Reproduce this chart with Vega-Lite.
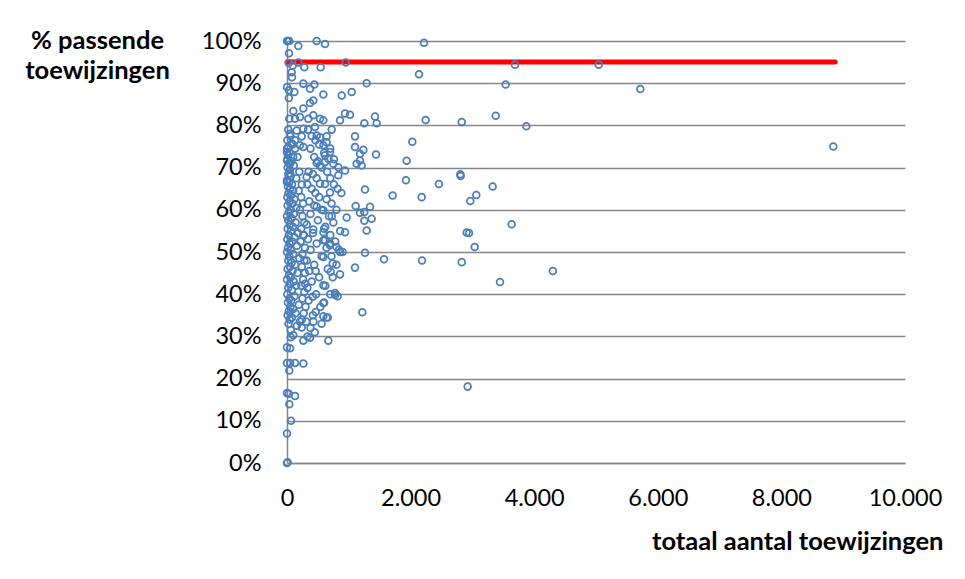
{
  "$schema": "https://vega.github.io/schema/vega-lite/v6.json",
  "width": 618,
  "height": 422,
  "autosize": "none",
  "padding": {"left": 287, "top": 41, "right": 60, "bottom": 116},
  "background": "white",
  "config": {
    "view": {"stroke": null},
    "locale": {
      "number": {"decimal": ",", "thousands": ".", "grouping": [3], "currency": ["€", ""]}
    },
    "axis": {
      "labelFont": "Lato",
      "labelFontSize": 23.5,
      "labelColor": "black",
      "labelFlush": false,
      "labelOverlap": false,
      "labelBound": false,
      "titleFont": "Lato",
      "titleFontSize": 25.5,
      "titleFontWeight": "bold",
      "titleColor": "black",
      "domainColor": "#868686",
      "domainWidth": 1.5,
      "ticks": false,
      "tickSize": 0
    }
  },
  "layer": [
    {
      "data": {"values": [{"start": 0, "end": 8870, "p": 0.95}]},
      "mark": {"type": "rule", "color": "#FF0000", "strokeWidth": 5, "strokeCap": "round"},
      "encoding": {
        "x": {"field": "start", "type": "quantitative"},
        "x2": {"field": "end"},
        "y": {"field": "p", "type": "quantitative"}
      }
    },
    {
      "data": {
        "values": [
          {"n": 3689, "p": 0.944}, {"n": 5044, "p": 0.944}, {"n": 3538, "p": 0.897}, {"n": 5717, "p": 0.886},
          {"n": 2827, "p": 0.808}, {"n": 3377, "p": 0.823}, {"n": 3873, "p": 0.798}, {"n": 8840, "p": 0.75},
          {"n": 2805, "p": 0.684}, {"n": 2810, "p": 0.68}, {"n": 3328, "p": 0.655}, {"n": 3063, "p": 0.635},
          {"n": 2966, "p": 0.621}, {"n": 3635, "p": 0.566}, {"n": 2945, "p": 0.545}, {"n": 3037, "p": 0.512},
          {"n": 2827, "p": 0.476}, {"n": 4302, "p": 0.455}, {"n": 3447, "p": 0.429}, {"n": 2923, "p": 0.181},
          {"n": 2244, "p": 0.813}, {"n": 2136, "p": 0.921}, {"n": 2217, "p": 0.996}, {"n": 2179, "p": 0.63},
          {"n": 2185, "p": 0.48}, {"n": 2028, "p": 0.761}, {"n": 1936, "p": 0.716}, {"n": 1925, "p": 0.67},
          {"n": 2459, "p": 0.661}, {"n": 1710, "p": 0.634}, {"n": 1570, "p": 0.483},
          {"n": 1100, "p": 0.774}, {"n": 1100, "p": 0.749}, {"n": 1181, "p": 0.733}, {"n": 1235, "p": 0.742},
          {"n": 1440, "p": 0.731}, {"n": 1127, "p": 0.709}, {"n": 1181, "p": 0.717}, {"n": 1208, "p": 0.705},
          {"n": 1262, "p": 0.648}, {"n": 1111, "p": 0.609}, {"n": 1181, "p": 0.593}, {"n": 1251, "p": 0.595},
          {"n": 1343, "p": 0.607}, {"n": 1370, "p": 0.579}, {"n": 1251, "p": 0.574}, {"n": 1289, "p": 0.551},
          {"n": 966, "p": 0.582}, {"n": 939, "p": 0.547}, {"n": 1262, "p": 0.498}, {"n": 1100, "p": 0.463},
          {"n": 1219, "p": 0.357}, {"n": 1047, "p": 0.879}, {"n": 1289, "p": 0.9}, {"n": 1251, "p": 0.805},
          {"n": 1424, "p": 0.821}, {"n": 1451, "p": 0.805}, {"n": 939, "p": 0.828}, {"n": 1019, "p": 0.825},
          {"n": 885, "p": 0.871}, {"n": 950, "p": 0.949}, {"n": 858, "p": 0.812}, {"n": 858, "p": 0.447},
          {"n": 777, "p": 0.403}, {"n": 780, "p": 0.398},
          {"n": 0, "p": 1.0}, {"n": 15, "p": 1.0}, {"n": 35, "p": 1.0}, {"n": 183, "p": 0.988},
          {"n": 480, "p": 1.0}, {"n": 615, "p": 0.993}, {"n": 32, "p": 0.971}, {"n": 28, "p": 0.948},
          {"n": 183, "p": 0.949}, {"n": 92, "p": 0.942}, {"n": 280, "p": 0.938}, {"n": 545, "p": 0.938},
          {"n": 76, "p": 0.926}, {"n": 80, "p": 0.914}, {"n": 0, "p": 0.891}, {"n": 30, "p": 0.883},
          {"n": 30, "p": 0.865}, {"n": 119, "p": 0.879}, {"n": 264, "p": 0.899}, {"n": 442, "p": 0.897},
          {"n": 372, "p": 0.887}, {"n": 588, "p": 0.873}, {"n": 372, "p": 0.853}, {"n": 426, "p": 0.859},
          {"n": 264, "p": 0.84}, {"n": 102, "p": 0.834}, {"n": 37, "p": 0.816}, {"n": 129, "p": 0.816},
          {"n": 210, "p": 0.82}, {"n": 345, "p": 0.816}, {"n": 426, "p": 0.824}, {"n": 534, "p": 0.816},
          {"n": 588, "p": 0.812}, {"n": 48, "p": 0.78}, {"n": 157, "p": 0.788}, {"n": 237, "p": 0.774},
          {"n": 264, "p": 0.792}, {"n": 453, "p": 0.796}, {"n": 480, "p": 0.776}, {"n": 534, "p": 0.772},
          {"n": 642, "p": 0.774}, {"n": 723, "p": 0.79}, {"n": 0, "p": 0.737}, {"n": 20, "p": 0.749},
          {"n": 75, "p": 0.757}, {"n": 130, "p": 0.765}, {"n": 210, "p": 0.753}, {"n": 264, "p": 0.749},
          {"n": 588, "p": 0.753}, {"n": 615, "p": 0.729}, {"n": 696, "p": 0.737}, {"n": 0, "p": 0.717},
          {"n": 50, "p": 0.709}, {"n": 100, "p": 0.725}, {"n": 480, "p": 0.711}, {"n": 534, "p": 0.705},
          {"n": 615, "p": 0.713}, {"n": 669, "p": 0.721}, {"n": 750, "p": 0.709}, {"n": 831, "p": 0.701},
          {"n": 831, "p": 0.682}, {"n": 939, "p": 0.693}, {"n": 0, "p": 0.666}, {"n": 50, "p": 0.686},
          {"n": 318, "p": 0.678}, {"n": 534, "p": 0.662}, {"n": 615, "p": 0.661}, {"n": 696, "p": 0.641},
          {"n": 588, "p": 0.599}, {"n": 480, "p": 0.608}, {"n": 723, "p": 0.585}, {"n": 588, "p": 0.547},
          {"n": 615, "p": 0.528}, {"n": 696, "p": 0.52}, {"n": 426, "p": 0.553}, {"n": 264, "p": 0.54},
          {"n": 2907, "p": 0.546}, {"n": 588, "p": 0.528}, {"n": 696, "p": 0.516}, {"n": 800, "p": 0.512},
          {"n": 840, "p": 0.505}, {"n": 860, "p": 0.5}, {"n": 739, "p": 0.473}, {"n": 707, "p": 0.453},
          {"n": 464, "p": 0.455}, {"n": 588, "p": 0.488}, {"n": 588, "p": 0.421}, {"n": 291, "p": 0.425},
          {"n": 415, "p": 0.394}, {"n": 588, "p": 0.379}, {"n": 464, "p": 0.358}, {"n": 426, "p": 0.335},
          {"n": 588, "p": 0.348}, {"n": 642, "p": 0.345}, {"n": 237, "p": 0.321}, {"n": 102, "p": 0.303},
          {"n": 60, "p": 0.298}, {"n": 264, "p": 0.29}, {"n": 372, "p": 0.297}, {"n": 669, "p": 0.29},
          {"n": 0, "p": 0.274}, {"n": 50, "p": 0.272}, {"n": 0, "p": 0.237}, {"n": 50, "p": 0.237},
          {"n": 130, "p": 0.237}, {"n": 264, "p": 0.236}, {"n": 37, "p": 0.219}, {"n": 0, "p": 0.166},
          {"n": 30, "p": 0.164}, {"n": 130, "p": 0.159}, {"n": 37, "p": 0.139}, {"n": 64, "p": 0.1},
          {"n": 0, "p": 0.07}, {"n": 0, "p": 0.0}, {"n": 10, "p": 0.002},
          {"n": 0, "p": 0.745}, {"n": 15, "p": 0.73}, {"n": 5, "p": 0.72}, {"n": 30, "p": 0.71},
          {"n": 10, "p": 0.7}, {"n": 45, "p": 0.695}, {"n": 20, "p": 0.685}, {"n": 60, "p": 0.68},
          {"n": 0, "p": 0.67}, {"n": 35, "p": 0.665}, {"n": 80, "p": 0.66}, {"n": 15, "p": 0.655},
          {"n": 50, "p": 0.65}, {"n": 100, "p": 0.645}, {"n": 25, "p": 0.64}, {"n": 70, "p": 0.635},
          {"n": 5, "p": 0.63}, {"n": 120, "p": 0.625}, {"n": 40, "p": 0.62}, {"n": 90, "p": 0.615},
          {"n": 10, "p": 0.61}, {"n": 150, "p": 0.605}, {"n": 60, "p": 0.6}, {"n": 30, "p": 0.595},
          {"n": 110, "p": 0.59}, {"n": 0, "p": 0.585}, {"n": 75, "p": 0.58}, {"n": 20, "p": 0.575},
          {"n": 140, "p": 0.57}, {"n": 45, "p": 0.565}, {"n": 95, "p": 0.56}, {"n": 10, "p": 0.555},
          {"n": 65, "p": 0.55}, {"n": 180, "p": 0.545}, {"n": 30, "p": 0.54}, {"n": 120, "p": 0.535},
          {"n": 5, "p": 0.53}, {"n": 85, "p": 0.525}, {"n": 40, "p": 0.52}, {"n": 160, "p": 0.515},
          {"n": 15, "p": 0.51}, {"n": 60, "p": 0.505}, {"n": 0, "p": 0.5}, {"n": 100, "p": 0.495},
          {"n": 35, "p": 0.49}, {"n": 200, "p": 0.485}, {"n": 20, "p": 0.48}, {"n": 75, "p": 0.475},
          {"n": 130, "p": 0.47}, {"n": 50, "p": 0.465}, {"n": 10, "p": 0.46}, {"n": 90, "p": 0.455},
          {"n": 170, "p": 0.45}, {"n": 30, "p": 0.445}, {"n": 60, "p": 0.44}, {"n": 0, "p": 0.435},
          {"n": 110, "p": 0.43}, {"n": 45, "p": 0.425}, {"n": 150, "p": 0.42}, {"n": 20, "p": 0.415},
          {"n": 80, "p": 0.41}, {"n": 5, "p": 0.4}, {"n": 120, "p": 0.395}, {"n": 40, "p": 0.39},
          {"n": 70, "p": 0.385}, {"n": 15, "p": 0.38}, {"n": 190, "p": 0.375}, {"n": 55, "p": 0.37},
          {"n": 100, "p": 0.365}, {"n": 30, "p": 0.36}, {"n": 140, "p": 0.355}, {"n": 10, "p": 0.35},
          {"n": 80, "p": 0.345}, {"n": 45, "p": 0.34}, {"n": 210, "p": 0.335}, {"n": 25, "p": 0.33},
          {"n": 160, "p": 0.325}, {"n": 60, "p": 0.315},
          {"n": 20, "p": 0.79}, {"n": 55, "p": 0.775}, {"n": 5, "p": 0.765}, {"n": 90, "p": 0.755},
          {"n": 130, "p": 0.745}, {"n": 40, "p": 0.735}, {"n": 170, "p": 0.725}, {"n": 70, "p": 0.715},
          {"n": 110, "p": 0.705}, {"n": 200, "p": 0.69}, {"n": 150, "p": 0.675}, {"n": 240, "p": 0.66},
          {"n": 190, "p": 0.645}, {"n": 230, "p": 0.63}, {"n": 260, "p": 0.615}, {"n": 210, "p": 0.6},
          {"n": 250, "p": 0.585}, {"n": 280, "p": 0.57}, {"n": 230, "p": 0.555}, {"n": 270, "p": 0.54},
          {"n": 220, "p": 0.525}, {"n": 290, "p": 0.51}, {"n": 250, "p": 0.495}, {"n": 280, "p": 0.48},
          {"n": 240, "p": 0.465}, {"n": 290, "p": 0.45}, {"n": 260, "p": 0.435}, {"n": 230, "p": 0.42},
          {"n": 280, "p": 0.405}, {"n": 250, "p": 0.39}, {"n": 300, "p": 0.37}, {"n": 270, "p": 0.355},
          {"n": 240, "p": 0.34},
          {"n": 350, "p": 0.69}, {"n": 420, "p": 0.685}, {"n": 480, "p": 0.675}, {"n": 330, "p": 0.66},
          {"n": 400, "p": 0.65}, {"n": 460, "p": 0.64}, {"n": 520, "p": 0.63}, {"n": 360, "p": 0.62},
          {"n": 440, "p": 0.61}, {"n": 560, "p": 0.6}, {"n": 380, "p": 0.59}, {"n": 500, "p": 0.575},
          {"n": 320, "p": 0.565}, {"n": 600, "p": 0.555}, {"n": 420, "p": 0.545}, {"n": 340, "p": 0.53},
          {"n": 480, "p": 0.52}, {"n": 380, "p": 0.505}, {"n": 560, "p": 0.49}, {"n": 320, "p": 0.48},
          {"n": 440, "p": 0.47}, {"n": 360, "p": 0.455}, {"n": 520, "p": 0.44}, {"n": 400, "p": 0.43},
          {"n": 330, "p": 0.415}, {"n": 470, "p": 0.4}, {"n": 350, "p": 0.385}, {"n": 540, "p": 0.37},
          {"n": 420, "p": 0.35}, {"n": 310, "p": 0.335}, {"n": 380, "p": 0.32}, {"n": 450, "p": 0.31},
          {"n": 330, "p": 0.3},
          {"n": 650, "p": 0.69}, {"n": 700, "p": 0.675}, {"n": 760, "p": 0.66}, {"n": 820, "p": 0.65},
          {"n": 880, "p": 0.64}, {"n": 640, "p": 0.625}, {"n": 720, "p": 0.615}, {"n": 800, "p": 0.6},
          {"n": 680, "p": 0.585}, {"n": 750, "p": 0.57}, {"n": 620, "p": 0.56}, {"n": 860, "p": 0.55},
          {"n": 700, "p": 0.54}, {"n": 780, "p": 0.525}, {"n": 640, "p": 0.51}, {"n": 900, "p": 0.5},
          {"n": 720, "p": 0.49}, {"n": 800, "p": 0.47}, {"n": 660, "p": 0.46}, {"n": 740, "p": 0.44},
          {"n": 620, "p": 0.42}, {"n": 700, "p": 0.4}, {"n": 820, "p": 0.395}, {"n": 600, "p": 0.38},
          {"n": 660, "p": 0.345}, {"n": 560, "p": 0.33},
          {"n": 340, "p": 0.79}, {"n": 400, "p": 0.775}, {"n": 460, "p": 0.765}, {"n": 520, "p": 0.755},
          {"n": 380, "p": 0.745}, {"n": 600, "p": 0.735}, {"n": 440, "p": 0.725}, {"n": 500, "p": 0.715},
          {"n": 560, "p": 0.7}, {"n": 640, "p": 0.76}, {"n": 700, "p": 0.745}, {"n": 760, "p": 0.72}
        ]
      },
      "mark": {"type": "point", "shape": "circle", "filled": false, "color": "#4A7EBB", "strokeWidth": 1.75, "size": 46, "opacity": 1},
      "encoding": {
        "x": {"field": "n", "type": "quantitative"},
        "y": {"field": "p", "type": "quantitative"}
      }
    }
  ],
  "encoding": {
    "x": {
      "field": "n",
      "type": "quantitative",
      "scale": {"domain": [0, 10000], "nice": false, "zero": true},
      "axis": {
        "values": [0, 2000, 4000, 6000, 8000, 10000],
        "format": ",d",
        "grid": false,
        "labelPadding": 23,
        "title": "totaal aantal toewijzingen",
        "titleX": 656,
        "titleY": 86,
        "titleAlign": "right",
        "titleBaseline": "alphabetic",
        "titleAnchor": null
      }
    },
    "y": {
      "field": "p",
      "type": "quantitative",
      "scale": {"domain": [0, 1], "nice": false},
      "axis": {
        "values": [0, 0.1, 0.2, 0.3, 0.4, 0.5, 0.6, 0.7, 0.8, 0.9, 1],
        "format": ".0%",
        "grid": true,
        "gridColor": "#868686",
        "gridWidth": 1.5,
        "labelPadding": 26,
        "title": ["% passende", "toewijzingen"],
        "titleAngle": 0,
        "titleX": -190,
        "titleY": 7,
        "titleAlign": "center",
        "titleBaseline": "alphabetic",
        "titleLineHeight": 30
      }
    }
  }
}
